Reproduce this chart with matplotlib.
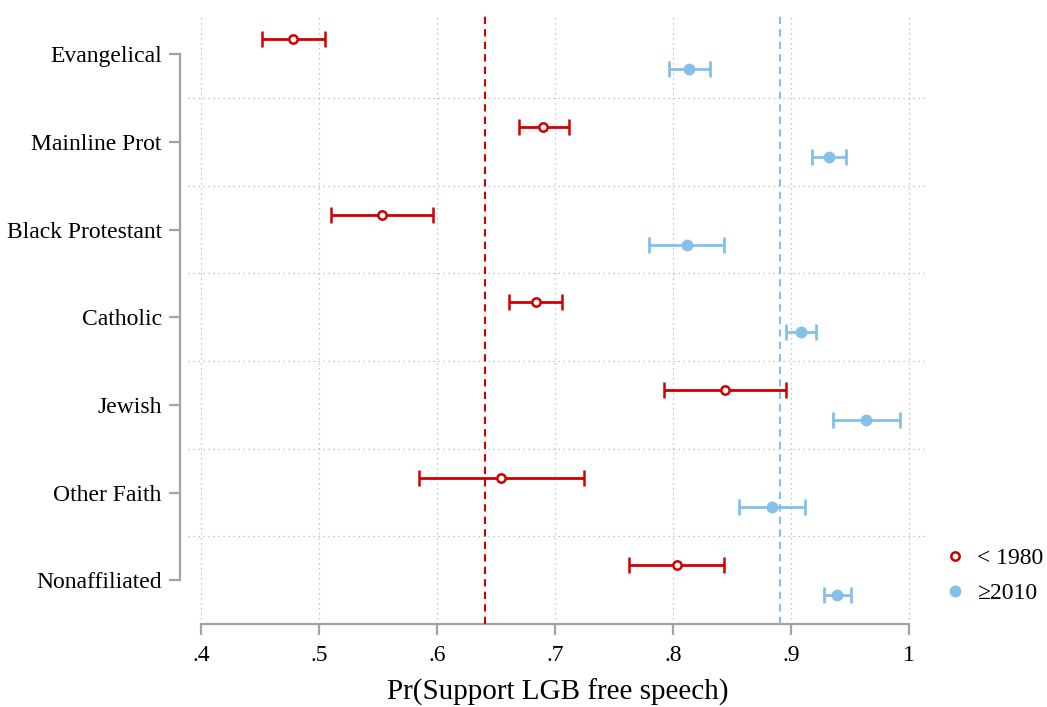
import numpy as np
import matplotlib.pyplot as plt
from matplotlib.lines import Line2D

plt.rcParams['font.family'] = ['Liberation Serif', 'DejaVu Serif']

groups = ["Evangelical", "Mainline Prot", "Black Protestant", "Catholic",
          "Jewish", "Other Faith", "Nonaffiliated"]

# predicted probabilities, < 1980
early = [0.478, 0.690, 0.553, 0.684, 0.844, 0.654, 0.803]
early_lo = [0.4515, 0.6695, 0.510, 0.661, 0.7925, 0.5845, 0.7625]
early_hi = [0.505, 0.7115, 0.597, 0.706, 0.896, 0.725, 0.843]

# predicted probabilities, >= 2010
late = [0.814, 0.9325, 0.8115, 0.9085, 0.964, 0.884, 0.939]
late_lo = [0.797, 0.918, 0.780, 0.896, 0.936, 0.856, 0.928]
late_hi = [0.831, 0.947, 0.843, 0.921, 0.992, 0.912, 0.951]

# overall means for each period
early_mean = 0.6407
late_mean = 0.8906

xticks = [0.4, 0.5, 0.6, 0.7, 0.8, 0.9, 1.0]
xticklabels = [".4", ".5", ".6", ".7", ".8", ".9", "1"]

red = "#d00000"
blue = "#85c0e9"
gray = "#a3a3a3"

fig = plt.figure(figsize=(10.47, 7.07), dpi=100)
ax = fig.add_axes([0.1796, 0.1174, 0.7058, 0.8628])

for s in ["top", "right"]:
    ax.spines[s].set_visible(False)
ax.spines["left"].set_position(("outward", 6))

y = np.arange(len(groups))
early = np.array(early)
late = np.array(late)

ax.errorbar(early, y - 0.17,
            xerr=[early - np.array(early_lo), np.array(early_hi) - early],
            fmt='o', color=red, ecolor=red, mfc='white', mec=red,
            ms=6, mew=1.8, elinewidth=2, capsize=6, capthick=2, zorder=4)
ax.errorbar(late, y + 0.17,
            xerr=[late - np.array(late_lo), np.array(late_hi) - late],
            fmt='o', color=blue, ecolor=blue, mfc=blue, mec=blue,
            ms=7.5, elinewidth=2, capsize=6, capthick=2, zorder=4)

ax.axvline(early_mean, color=red, ls=(0, (3.5, 2.5)), lw=1.5, zorder=3)
ax.axvline(late_mean, color=blue, ls=(0, (3.5, 2.5)), lw=1.5, zorder=3)

# dotted grid
for xv in xticks:
    ax.axvline(xv, color="#b5b5b5", ls=(0, (1, 3)), lw=0.9, zorder=1)
for yv in np.arange(0.5, len(groups) - 1, 1.0):
    ax.axhline(yv, color="#b5b5b5", ls=(0, (1, 3)), lw=0.9, zorder=1)

ax.set_xlim(0.389, 1.0153)
ax.set_ylim(6.5, -0.46)

ax.set_yticks(y)
ax.set_yticklabels(groups)
ax.set_xticks(xticks)
ax.set_xticklabels(xticklabels)
ax.set_xlabel("Pr(Support LGB free speech)", fontsize=21, labelpad=9)

ax.spines["left"].set_bounds(0, len(groups) - 1)
ax.spines["bottom"].set_bounds(0.4, 1.0)
for s in ["left", "bottom"]:
    ax.spines[s].set_color(gray)
    ax.spines[s].set_linewidth(1.6)
ax.tick_params(axis="both", color=gray, width=1.6, length=8, labelsize=17)
ax.tick_params(axis="x", pad=7)
ax.tick_params(axis="y", pad=5)

handles = [
    Line2D([], [], ls='none', marker='o', color=red, mfc='white', mec=red,
           ms=6, mew=1.8),
    Line2D([], [], ls='none', marker='o', color=blue, mfc=blue, mec=blue,
           ms=7.5),
]
ax.legend(handles, ["< 1980", "\u22652010"], loc="center left",
          bbox_to_anchor=(0.99, 0.079), frameon=False, fontsize=17,
          handletextpad=0.35, labelspacing=0.55, handlelength=1.2)

fig.savefig("out.png", dpi=100)
